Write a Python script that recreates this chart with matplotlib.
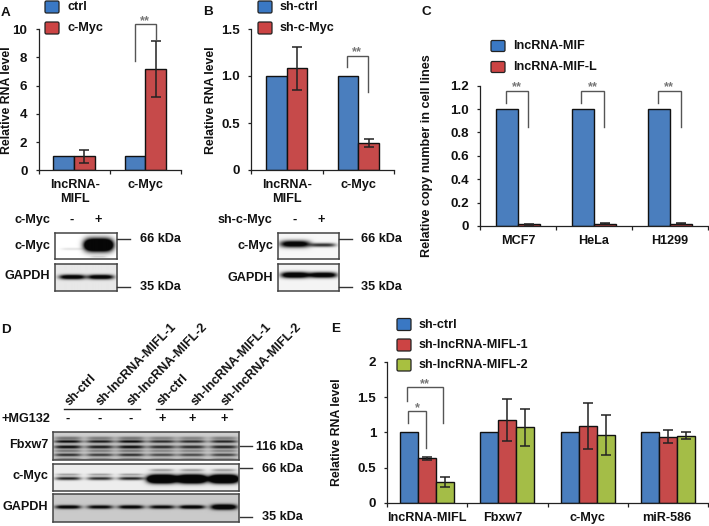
import numpy as np
import matplotlib
matplotlib.use("Agg")
import matplotlib.pyplot as plt
from matplotlib.patches import FancyBboxPatch

plt.rcParams['font.family'] = ['Liberation Sans', 'DejaVu Sans']
plt.rcParams['font.weight'] = 'bold'

W, H = 709, 526
FS = 9.1
TICKFS = 9.6
BLUE, RED, GREEN = '#4A7EBE', '#C64A4A', '#A4BD47'
LBLUE, LRED, LGREEN = '#3A78C4', '#CC4444', '#A8C040'
BRK = '#555555'

# Panel A
a_cats = ['lncRNA-\nMIFL', 'c-Myc']
a_ctrl = [1, 1]
a_myc = [1, 7.2]
a_myc_err = [0.45, 2.0]
# Panel B
b_cats = ['lncRNA-\nMIFL', 'c-Myc']
b_ctrl = [1, 1]
b_sh = [1.08, 0.29]
b_sh_err = [0.225, 0.045]
# Panel C
c_cats = ['MCF7', 'HeLa', 'H1299']
c_mif = [1, 1, 1]
c_mifl = [0.015, 0.02, 0.02]
c_mifl_err = [0.005, 0.006, 0.006]
# Panel E
e_cats = ['lncRNA-MIFL', 'Fbxw7', 'c-Myc', 'miR-586']
e_ctrl = [1, 1, 1, 1]
e_sh1 = [0.63, 1.17, 1.09, 0.94]
e_sh1_err = [0.02, 0.30, 0.33, 0.09]
e_sh2 = [0.30, 1.07, 0.96, 0.95]
e_sh2_err = [0.07, 0.26, 0.28, 0.05]

fig = plt.figure(figsize=(W / 100, H / 100), dpi=100, facecolor='white')


def px_axes(x0, y0, x1, y1, **kw):
    return fig.add_axes([x0 / W, 1 - y1 / H, (x1 - x0) / W, (y1 - y0) / H], **kw)


def bar_panel(box, ymax, yticks, ylabels, cats, series, errs, colors, width):
    ax = px_axes(*box)
    ax.patch.set_alpha(0)
    n = len(cats)
    x = np.arange(n) + 0.5
    m = len(series)
    for i, (vals, err, col) in enumerate(zip(series, errs, colors)):
        off = (i - (m - 1) / 2) * width
        ax.bar(x + off, vals, width, color=col, edgecolor='#111111', linewidth=1.0,
               zorder=2)
        if err is not None:
            ax.errorbar(x + off, vals, yerr=err, fmt='none', ecolor='#222222',
                        elinewidth=1.1, capsize=3.3, capthick=1.1, zorder=3)
    ax.set_xlim(0, n)
    ax.set_ylim(0, ymax)
    ax.set_yticks(yticks, ylabels, fontsize=TICKFS, fontweight='bold', color='#111111')
    ax.set_xticks(np.arange(n + 1))
    ax.set_xticklabels([])
    ax.tick_params(axis='y', length=2.5, width=0.9, pad=5.5, color='#222222')
    ax.tick_params(axis='x', length=3, width=0.9, direction='out', color='#222222')
    for s in ('top', 'right'):
        ax.spines[s].set_visible(False)
    for s in ('left', 'bottom'):
        ax.spines[s].set_linewidth(0.9)
        ax.spines[s].set_color('#222222')
    return ax


bar_panel((38.5, 29.3, 181, 170.3), 10, [0, 2, 4, 6, 8, 10], ['0', '2', '4', '6', '8', '10'],
          a_cats, [a_ctrl, a_myc], [None, a_myc_err], [BLUE, RED], 0.29)
bar_panel((251, 29, 394, 170), 1.5, [0, 0.5, 1, 1.5], ['0', '0.5', '1.0', '1.5'],
          b_cats, [b_ctrl, b_sh], [None, b_sh_err], [BLUE, RED], 0.29)
bar_panel((480, 85.7, 708, 226), 1.2, [0, .2, .4, .6, .8, 1, 1.2],
          ['0', '0.2', '0.4', '0.6', '0.8', '1.0', '1.2'],
          c_cats, [c_mif, c_mifl], [None, c_mifl_err], [BLUE, RED], 0.293)
bar_panel((387.3, 362, 707.7, 502.7), 2, [0, .5, 1, 1.5, 2], ['0', '0.5', '1', '1.5', '2'],
          e_cats, [e_ctrl, e_sh1, e_sh2], [None, e_sh1_err, e_sh2_err], [BLUE, RED, GREEN], 0.225)

# Blots: lanes given as (x, y, half-width, half-height, strength) in figure pixels


def blot(box, bg, bands):
    x0, y0, x1, y1 = box
    ax = px_axes(x0, y0, x1, y1)
    xs = np.linspace(x0, x1, int((x1 - x0) * 3))
    ys = np.linspace(y0, y1, int((y1 - y0) * 3))
    X, Y = np.meshgrid(xs, ys)
    dark = np.zeros_like(X)
    for bx, by, wx, wy, s in bands:
        dark += s * np.exp(-((X - bx) / wx) ** 4 - ((Y - by) / wy) ** 2)
    img = bg * (1 - np.clip(dark, 0, 1)) + 0.03
    ax.imshow(img, cmap='gray', vmin=0, vmax=1, extent=(x0, x1, y1, y0), aspect='auto',
              interpolation='bilinear')
    ax.set_xticks([])
    ax.set_yticks([])
    for s in ax.spines.values():
        s.set_linewidth(1.1)
        s.set_color('#444444')


# A
blot((55, 233, 117, 259), 0.97, [(72, 249, 11, 1.2, 0.12), (98, 245, 14, 6.0, 2.5), (98, 257, 8, 1, 0.15)])
blot((55, 264, 117, 291), 0.88, [(72, 277, 13, 2.4, 1.3), (100, 277, 13, 2.4, 1.3)])
# B
blot((278, 233, 339, 259), 0.94, [(295, 244, 15, 3.5, 1.3), (323, 245, 13, 2.0, 0.85)])
blot((278, 264, 339, 291), 0.93, [(295, 275, 14, 3.0, 1.5), (323, 275, 14, 2.8, 1.4)])
# D
d_lanes = [68, 100, 131, 162, 192, 224]
d_fb = [1.2, 1.1, 1.2, 1.0, 1.0, 1.05]
d_myc_lo = [0.9, 0.85, 0.9, 2.5, 2.5, 2.5]
d_gapdh = [1.2, 1.1, 1.2, 1.1, 1.3, 1.6]
fb_bands = []
for lx, s in zip(d_lanes, d_fb):
    fb_bands += [(lx, 438, 14, 1.6, 0.4 * s), (lx, 441.5, 14, 1.5, 0.85 * s),
                 (lx, 447, 14, 1.8, 0.85 * s), (lx, 451, 14, 1.2, 0.4 * s),
                 (lx, 455, 14, 1.6, 0.7 * s), (lx, 459, 14, 1.0, 0.35 * s)]
blot((53, 432, 239, 460), 0.78, fb_bands)
myc_bands = []
for i, (lx, s) in enumerate(zip(d_lanes, d_myc_lo)):
    if i < 3:
        myc_bands += [(lx, 478.5, 13, 1.7, s), (lx, 474.5, 12, 1.1, 0.35)]
    else:
        myc_bands += [(lx, 479, 14.5, 4.0, s), (lx, 470, 12, 1.3, 0.35)]
blot((53, 464, 239, 491), 0.9, myc_bands)
blot((53, 494, 239, 522), 0.76, [(lx, 507, 13, 1.9 + 0.8 * (s > 1.4), s) for lx, s in zip(d_lanes, d_gapdh)])

# Overlay for annotations
ov = fig.add_axes([0, 0, 1, 1], zorder=10)
ov.set_xlim(0, W)
ov.set_ylim(H, 0)
ov.axis('off')
ov.patch.set_alpha(0)


def T(x, y, s, ha='center', va='center', size=FS, **kw):
    ov.text(x, y, s, ha=ha, va=va, fontsize=size, fontweight='bold', color='#111111', **kw)


def legend(x, ys, h, labels, colors, tx):
    for y, lab, c in zip(ys, labels, colors):
        ov.add_patch(FancyBboxPatch((x + 1.5, y - h / 2 + 1.5), 11, h - 3, boxstyle='round,pad=1.5',
                                    fc=c, ec='#222222', lw=0.9))
        T(tx, y, lab, ha='left')


legend(45, [7, 28], 12, ['ctrl', 'c-Myc'], [LBLUE, LRED], 67)
legend(258, [7, 28], 12, ['sh-ctrl', 'sh-c-Myc'], [LBLUE, LRED], 280)
legend(491, [46, 67], 11, ['lncRNA-MIF', 'lncRNA-MIF-L'], [LBLUE, LRED], 513)
legend(397, [324.5, 345, 365], 12, ['sh-ctrl', 'sh-lncRNA-MIFL-1', 'sh-lncRNA-MIFL-2'],
       [LBLUE, LRED, LGREEN], 419)

# Panel letters
for x, y, s in [(1, 13, 'A'), (203, 12, 'B'), (422, 12, 'C'), (1, 330, 'D'), (331, 329, 'E')]:
    T(x, y, s, ha='left', size=FS + 0.6)

# Y labels
T(7, 100, 'Relative RNA level', rotation=90, size=8.8)
T(211, 100, 'Relative RNA level', rotation=90, size=8.8)
T(427, 156, 'Relative copy number in cell lines', rotation=90)
T(337, 432, 'Relative RNA level', rotation=90, size=8.8)

# X labels
T(75, 192, 'lncRNA-\nMIFL', linespacing=1.15)
T(145, 185, 'c-Myc')
T(287, 192, 'lncRNA-\nMIFL', linespacing=1.15)
T(358, 185, 'c-Myc')
for x, s in zip([518, 594, 670], c_cats):
    T(x, 241, s)
for x, s in zip([427, 503, 587, 667], e_cats):
    T(x, 518, s)


def bracket(xl, yl, xr, yr, ytop, label, ylab):
    ov.plot([xl, xl, xr, xr], [yl, ytop, ytop, yr], color=BRK, lw=1.0, solid_joinstyle='miter')
    ov.text((xl + xr) / 2, ylab, label, ha='center', va='center', fontsize=FS,
            color='#777777', fontweight='bold')


bracket(134.7, 60.7, 156, 40, 24.3, '**', 21)
bracket(346.7, 66.7, 368, 91.7, 55.7, '**', 52)
for xl, xr in [(505.7, 528.3), (581.3, 604), (658, 680.7)]:
    bracket(xl, 102.7, xr, 126.7, 90.7, '**', 87)
bracket(408, 422.7, 426, 447.7, 411.3, '*', 408)
bracket(406.7, 401, 443.3, 423, 387, '**', 384)

# Blot labels A/B
T(50, 220, 'c-Myc', ha='right')
T(72, 220, '-')
T(98, 220, '+')
T(50, 246, 'c-Myc', ha='right')
T(50, 276, 'GAPDH', ha='right')
T(272.7, 220, 'sh-c-Myc', ha='right')
T(295, 220, '-')
T(321, 220, '+')
T(273, 246, 'c-Myc', ha='right')
T(273, 278, 'GAPDH', ha='right')
for xl, xr, tx in [(117, 130, 181), (339, 352, 402)]:
    ov.plot([xl, xr], [239, 239], color='#333333', lw=1)
    ov.plot([xl, xr], [287, 287], color='#333333', lw=1)
    T(tx, 239.5, '66 kDa', ha='right')
    T(tx, 287, '35 kDa', ha='right')

# Panel D labels
T(1, 419, '+MG132', ha='left')
for x, s in zip(d_lanes, ['-', '-', '-', '+', '+', '+']):
    T(x, 419, s)
T(48, 445, 'Fbxw7', ha='right')
T(48, 476, 'c-Myc', ha='right')
T(48, 507, 'GAPDH', ha='right')
for y, ty, s in [(446, 447, '116 kDa'), (468, 469, '66 kDa'), (517, 517, '35 kDa')]:
    ov.plot([240, 252], [y, y], color='#333333', lw=1)
    T(303, ty, s, ha='right')
ov.plot([64, 140], [409, 409], color='#222222', lw=1)
ov.plot([156, 232], [409, 409], color='#222222', lw=1)
d_names = ['sh-ctrl', 'sh-lncRNA-MIFL-1', 'sh-lncRNA-MIFL-2'] * 2
for x, s in zip([67, 98, 129, 159, 193, 223], d_names):
    ov.text(x, 404, s, rotation=46, rotation_mode='anchor', ha='left', va='center',
            fontsize=FS, fontweight='bold', color='#111111')

fig.savefig('out.png', dpi=100, facecolor='white')
